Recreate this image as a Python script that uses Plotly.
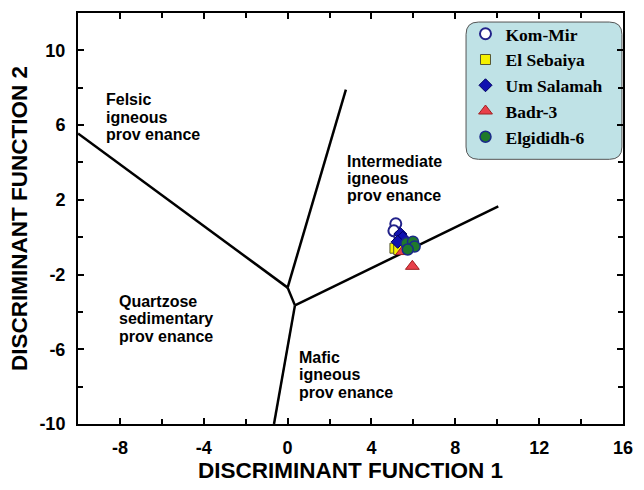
import plotly.graph_objects as go

# Boundary lines (discriminant function diagram)
felsic_x = [-10.0, 0.0]
felsic_y = [5.55, -2.7]
upper_x = [0.0, 2.78]
upper_y = [-2.7, 7.9]
mid_x = [0.0, 0.35]
mid_y = [-2.7, -3.65]
mafic_x = [0.35, -0.65]
mafic_y = [-3.65, -10.0]
inter_x = [0.35, 10.05]
inter_y = [-3.65, 1.65]

# Samples
kom_x = [5.16, 5.07, 5.35]
kom_y = [0.72, 0.34, 0.03]
seb_x = [5.12, 5.30]
seb_y = [-0.59, -0.66]
um_x = [5.38, 5.49, 5.25]
um_y = [0.17, -0.03, -0.25]
badr_x = [5.95, 5.49]
badr_y = [-1.56, -0.77]
elg_x = [5.67, 5.98, 6.06, 5.73]
elg_y = [-0.33, -0.24, -0.50, -0.66]

# Tick labels
x_tickvals = [-8, -4, 0, 4, 8, 12, 16]
x_ticktext = ["-8", "-4", "0", "4", "8", "12", "16"]
y_tickvals = [-10, -6, -2, 2, 6, 10]
y_ticktext = ["-10", "-6", "-2", "2", "6", "10"]

fig = go.Figure()
for xs, ys in [(felsic_x, felsic_y), (upper_x, upper_y), (mid_x, mid_y),
               (mafic_x, mafic_y), (inter_x, inter_y)]:
    fig.add_trace(go.Scatter(x=xs, y=ys, mode="lines",
                             line=dict(color="black", width=2.5),
                             showlegend=False, hoverinfo="skip"))

series = [
    ("Kom-Mir", kom_x, kom_y, dict(symbol="circle", size=11, color="white",
                                   line=dict(color="#22228a", width=2))),
    ("El Sebaiya", seb_x, seb_y, dict(symbol="square", size=10, color="#f5f000",
                                      line=dict(color="#555533", width=1))),
    ("Um Salamah", um_x, um_y, dict(symbol="diamond", size=10, color="#1010b0",
                                    line=dict(color="#000060", width=1))),
    ("Badr-3", badr_x, badr_y, dict(symbol="triangle-up", size=12, color="#e8404a",
                                    line=dict(color="#a02020", width=1))),
    ("Elgididh-6", elg_x, elg_y, dict(symbol="circle", size=11, color="#1f7a2a",
                                      line=dict(color="#1a2a8a", width=1.5))),
]
for i, (name, xs, ys, mk) in enumerate(series):
    fig.add_trace(go.Scatter(x=xs, y=ys, mode="markers", name=name, marker=mk,
                             legendgroup=f"g{i}"))

region_labels = [
    (-8.78, 7.35, ["Felsic", "igneous", "prov enance"]),
    (2.72, 4.07, ["Intermediate", "igneous", "prov enance"]),
    (-8.12, -3.45, ["Quartzose", "sedimentary", "prov enance"]),
    (0.47, -6.45, ["Mafic", "igneous", "prov enance"]),
]
for x, y, lines in region_labels:
    for k, t in enumerate(lines):
        fig.add_annotation(x=x, y=y, text=t, showarrow=False, xanchor="left",
                           yanchor="middle", align="left", yshift=-17.2 * k,
                           font=dict(family="Liberation Sans", size=16, color="black",
                                     weight="bold"))

axis_common = dict(
    showgrid=False, zeroline=False, showline=True, linecolor="black", linewidth=2,
    mirror="allticks", ticks="inside", ticklen=6, tickwidth=1.5, tickcolor="black",
    tickfont=dict(family="Liberation Sans", size=18, color="black", weight="bold"),
)
title_font = dict(family="Liberation Sans", size=22.5, color="black", weight="bold")

fig.update_layout(
    width=644, height=490,
    margin=dict(l=78, r=13, t=11, b=66),
    paper_bgcolor="white", plot_bgcolor="white",
    xaxis=dict(range=[-10, 16], tickmode="array", tickvals=x_tickvals, ticktext=x_ticktext,
               ticklabelstandoff=6,
               minor=dict(dtick=2, tick0=-10, ticks="inside", ticklen=5, tickcolor="black"),
               title=dict(text="DISCRIMINANT FUNCTION 1", standoff=6, font=title_font),
               **axis_common),
    yaxis=dict(range=[-10, 12], tickmode="array", tickvals=y_tickvals, ticktext=y_ticktext,
               ticklabelstandoff=7,
               minor=dict(dtick=2, tick0=-10, ticks="inside", ticklen=5, tickcolor="black"),
               title=dict(text="DISCRIMINANT FUNCTION 2", standoff=6, font=title_font),
               **axis_common),
    legend=dict(x=0.711, y=0.993, xanchor="left", yanchor="top",
                bgcolor="rgba(0,0,0,0)", borderwidth=0, tracegroupgap=0,
                font=dict(family="Liberation Serif", size=17.5, color="black", weight="bold")),
    shapes=[dict(type="path", xref="paper", yref="paper",
                 path="M 0.735 0.978 L 0.975 0.978 Q 0.998 0.978 0.998 0.948 L 0.998 0.674 "
                      "Q 0.998 0.644 0.975 0.644 L 0.735 0.644 Q 0.712 0.644 0.712 0.674 "
                      "L 0.712 0.948 Q 0.712 0.978 0.735 0.978 Z",
                 fillcolor="#bfe2e6", line=dict(color="#555555", width=1), layer="below")],
)

fig.write_html("out.html")
